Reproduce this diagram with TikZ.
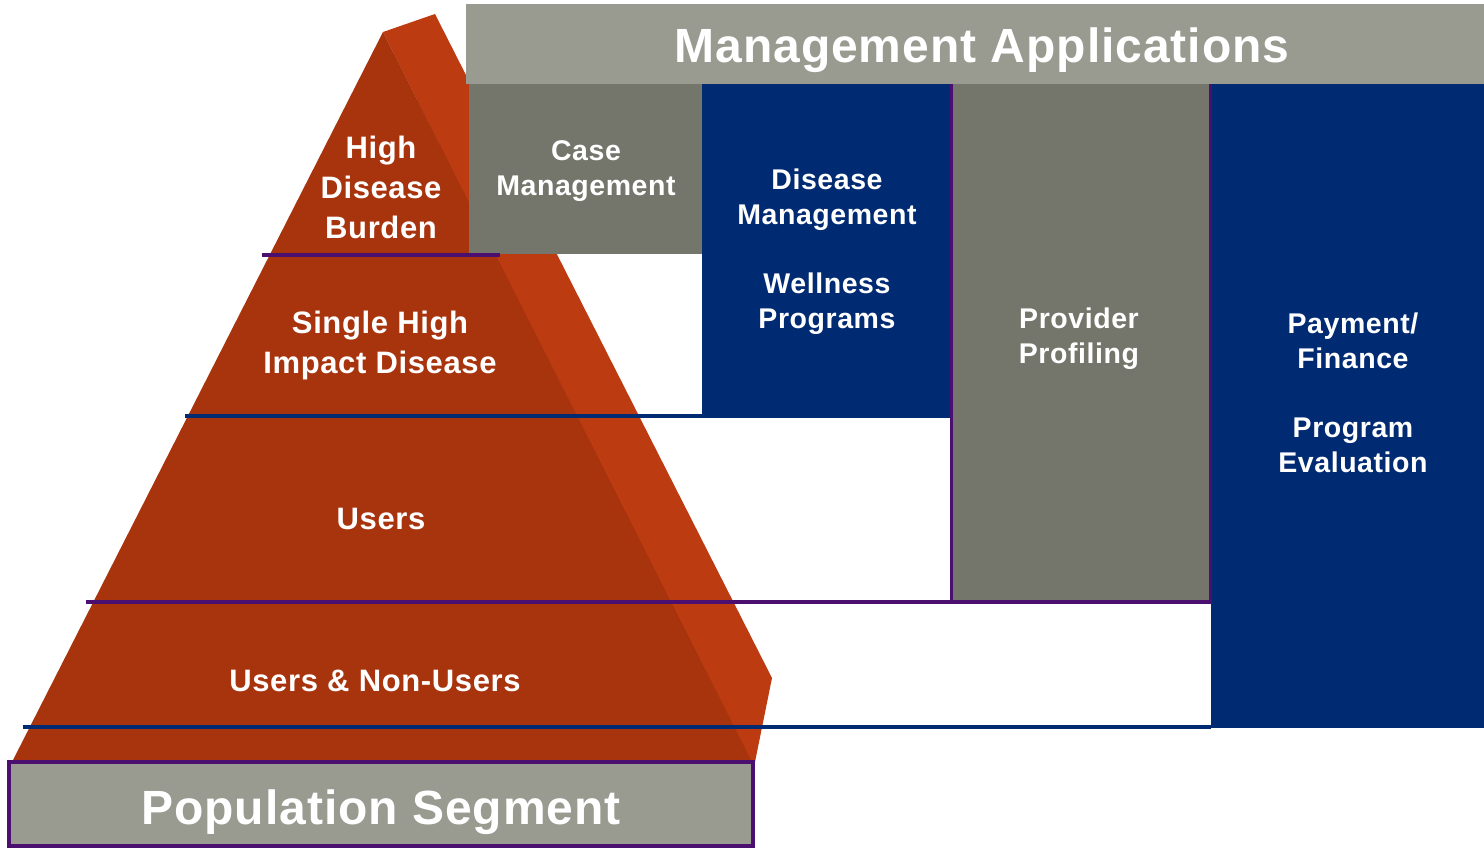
\documentclass[tikz,border=0pt]{standalone}
\usepackage{fontspec}
\setmainfont{Liberation Sans}
\newfontfamily\spacedsans[LetterSpace=2]{Liberation Sans}
\definecolor{rustfront}{RGB}{168,52,14}
\definecolor{rustside}{RGB}{189,59,17}
\definecolor{hdrgray}{RGB}{153,154,144}
\definecolor{boxgray}{RGB}{116,117,107}
\definecolor{navy}{RGB}{0,42,114}
\definecolor{purp}{RGB}{75,15,112}
\tikzset{
  boxtxt/.style={text=white,font=\spacedsans\bfseries\fontsize{28.5}{35}\selectfont,align=center,inner sep=0pt},
  pyrtxt/.style={text=white,font=\spacedsans\bfseries\fontsize{31}{40}\selectfont,align=center,inner sep=0pt},
  bigtxt/.style={text=white,font=\spacedsans\bfseries\fontsize{48}{56}\selectfont,inner sep=0pt},
  purpline/.style={draw=purp,line width=3.5pt},
  navyline/.style={draw=navy,line width=4pt}
}
\begin{document}
\begin{tikzpicture}[x=1pt,y=-1pt]
\useasboundingbox (0,0) rectangle (1484,848);
% pyramid
\fill[rustside] (383,32) -- (435,14) -- (772,678) -- (755,762) -- (750,762) -- cycle;
\fill[rustfront] (383,32) -- (12,762) -- (752,762) -- cycle;
% header
\fill[hdrgray] (466,4) rectangle (1484,84);
\node[bigtxt] (hdr) at (982,50) {Management Applications};
% boxes
\fill[boxgray] (469,84) rectangle (702,254);
\node[boxtxt] (cm) at (586,171) {Case\\Management};
\fill[navy] (702,84) rectangle (950,418);
\node[boxtxt] (dm) at (827,200) {Disease\\Management};
\node[boxtxt] (wp) at (827,304) {Wellness\\Programs};
\fill[navy] (1211,84) rectangle (1484,728);
\node[boxtxt] (pf) at (1353,341) {Payment/\\Finance};
\node[boxtxt] (pe) at (1353,445) {Program\\Evaluation};
\fill[boxgray] (951,84) rectangle (1211,602);
\draw[draw=purp,line width=3.5pt] (951.5,84) -- (951.5,602) -- (1210.5,602) -- (1210.5,84);
\node[boxtxt] (pp) at (1079,339) {Provider\\Profiling};
% separator lines
\draw[purpline] (262,255) -- (500,255);
\draw[navyline] (185,415.5) -- (950,415.5);
\draw[purpline] (86,602) -- (951,602);
\draw[navyline] (23,726.5) -- (1211,726.5);
% pyramid labels
\node[pyrtxt] (hdb) at (381,187) {High\\Disease\\Burden};
\node[pyrtxt] (shi) at (380,345) {Single High\\Impact Disease};
\node[pyrtxt] (us) at (381,519) {Users};
\node[pyrtxt] (unu) at (375,681) {Users \& Non-Users};
% population segment
\fill[hdrgray] (9,762) rectangle (753,846);
\draw[draw=purp,line width=4pt] (9,762) rectangle (753,846);
\node[bigtxt] (ps) at (381,812) {Population Segment};
\end{tikzpicture}
\end{document}
